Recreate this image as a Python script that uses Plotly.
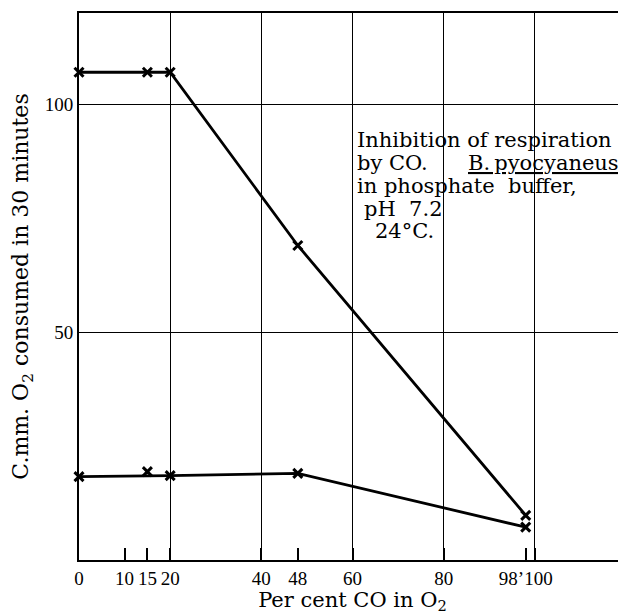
import plotly.graph_objects as go

# Data
co_pct = [0, 15, 20, 48, 98]
upper_o2 = [107, 107, 107, 69, 9.8]
lower_o2 = [18.3, 19.4, 18.5, 19.0, 7.2]
# the hand-drawn lower line passes by the 15 % point (fitted line)
lower_line_x = [0, 20, 48, 98]
lower_line_y = [18.3, 18.5, 19.0, 7.2]

x_tickvals = [0, 10, 15, 20, 40, 48, 60, 80, 98, 100]
x_ticktext = ["0", "10", "15", "20", "40", "48", "60", "80", "98\u2019100", ""]
x_gridvals = [20, 40, 60, 80, 100]
y_tickvals = [50, 100]
y_ticktext = ["50", "100"]

note_lines = [
    ("Inhibition of respiration", 60.5, 92.1),
    ("by CO.", 60.5, 87.1),
    ("<u>B.\u2009pyocyaneus</u>", 85.0, 87.1),
    ("in phosphate  buffer,", 60.5, 82.1),
    ("pH  7.2", 62.0, 77.0),
    ("24\u00b0C.", 64.6, 72.2),
]

tick_font = dict(family="Liberation Serif", size=19, color="black")
text_font = dict(family="DejaVu Serif", size=21, color="black")
ytitle_font = dict(family="DejaVu Serif", size=22, color="black")

fig = go.Figure()
fig.add_trace(go.Scatter(x=co_pct, y=upper_o2, mode="lines+markers",
                         line=dict(color="black", width=2.8),
                         marker=dict(symbol="x-thin", size=9,
                                     line=dict(color="black", width=3)),
                         cliponaxis=False, showlegend=False))
fig.add_trace(go.Scatter(x=lower_line_x, y=lower_line_y, mode="lines",
                         line=dict(color="black", width=2.8),
                         cliponaxis=False, showlegend=False))
fig.add_trace(go.Scatter(x=co_pct, y=lower_o2, mode="markers",
                         marker=dict(symbol="x-thin", size=9,
                                     line=dict(color="black", width=3)),
                         cliponaxis=False, showlegend=False))

for txt, xx, yy in note_lines:
    fig.add_annotation(x=xx, y=yy, xref="x", yref="y", text=txt,
                       showarrow=False, xanchor="left", yanchor="middle",
                       font=text_font)

# page body has an 8px margin, so the figure is sized to fill the rest
fig.update_layout(
    width=618, height=606,
    margin=dict(l=71, r=0, t=5, b=54),
    paper_bgcolor="white", plot_bgcolor="white",
    xaxis=dict(range=[0, 120], tickmode="array", tickvals=x_tickvals,
               ticktext=x_ticktext, ticks="inside", ticklen=12, tickwidth=1.5,
               tickcolor="black", showgrid=False, zeroline=False,
               showline=True, linecolor="black", linewidth=2, mirror=True,
               tickfont=tick_font, automargin=False,
               minor=dict(tickmode="array", tickvals=x_gridvals, showgrid=True,
                          gridcolor="black", gridwidth=1.3, ticks=""),
               title=dict(text="Per cent CO in O<sub>2</sub>", font=text_font,
                          standoff=3)),
    yaxis=dict(range=[0, 120], tickmode="array", tickvals=y_tickvals,
               ticktext=y_ticktext, ticks="", showgrid=True, gridcolor="black",
               gridwidth=1.3, zeroline=False, showline=True, linecolor="black",
               linewidth=2, tickfont=tick_font, automargin=False,
               title=dict(text="C.mm. O<sub>2</sub> consumed in 30 minutes",
                          font=ytitle_font, standoff=10)),
)

fig.write_html("out.html")
